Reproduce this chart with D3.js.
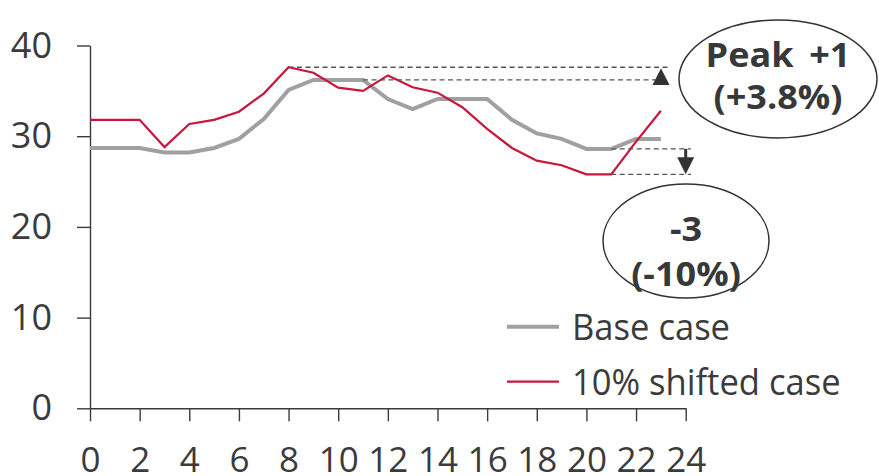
<!DOCTYPE html>
<html>
<head>
<meta charset="utf-8">
<script src="https://cdn.jsdelivr.net/npm/d3@7"></script>
<style>
  html, body { margin: 0; padding: 0; background: #fff; }
  svg { display: block; font-family: "Open Sans", "Noto Sans", sans-serif; }
</style>
</head>
<body>
<svg id="chart" width="879" height="476"></svg>
<script>
// Hourly profile, hours 0–23
const hours = [0, 1, 2, 3, 4, 5, 6, 7, 8, 9, 10, 11, 12, 13, 14, 15, 16, 17, 18, 19, 20, 21, 22, 23];
const baseCase = [28.7, 28.7, 28.7, 28.2, 28.2, 28.7, 29.7, 31.9, 35.1, 36.2, 36.2, 36.2,
                  34.1, 33.0, 34.1, 34.1, 34.1, 31.8, 30.3, 29.7, 28.6, 28.6, 29.7, 29.7];
const shiftedCase = [31.8, 31.8, 31.8, 28.8, 31.35, 31.8, 32.7, 34.7, 37.6, 37.0, 35.35, 35.0,
                     36.7, 35.4, 34.8, 33.2, 30.8, 28.7, 27.3, 26.8, 25.8, 25.8, 29.4, 32.8];
const seriesNames = ["Base case", "10% shifted case"];
const xTickValues = [0, 2, 4, 6, 8, 10, 12, 14, 16, 18, 20, 22, 24];
const yTickValues = [0, 10, 20, 30, 40];
const peakLabel = ["Peak +1", "(+3.8%)"];
const troughLabel = ["-3", "(-10%)"];

const ink = "#3b3b3b";
const greyLine = "#a0a0a0";
const redLine = "#c8163c";

const svg = d3.select("#chart");
const x = d3.scaleLinear().domain([0, 24]).range([90, 685.7]);
const y = d3.scaleLinear().domain([0, 40]).range([408.3, 45.5]);

function styleAxis(g, size) {
  g.selectAll(".domain").attr("stroke", ink).attr("stroke-width", 1.4);
  g.selectAll(".tick line").attr("stroke", ink).attr("stroke-width", 1.4);
  g.selectAll(".tick text")
    .attr("fill", ink)
    .style("font-family", '"Open Sans", "Noto Sans", sans-serif')
    .style("font-size", size + "px");
}

// y axis
svg.append("g")
  .attr("transform", `translate(${x(0)},0)`)
  .call(d3.axisLeft(y).tickValues(yTickValues).tickSize(13).tickSizeOuter(0).tickPadding(25))
  .call(styleAxis, 36);

// x axis
svg.append("g")
  .attr("transform", `translate(0,${y(0)})`)
  .call(d3.axisBottom(x).tickValues(xTickValues).tickSize(13).tickSizeOuter(0).tickPadding(26))
  .call(styleAxis, 35);

// series lines
const line = d3.line()
  .x((d, i) => x(hours[i]))
  .y(d => y(d));

svg.append("path")
  .datum(baseCase)
  .attr("fill", "none")
  .attr("stroke", greyLine)
  .attr("stroke-width", 4)
  .attr("d", line);

svg.append("path")
  .datum(shiftedCase)
  .attr("fill", "none")
  .attr("stroke", redLine)
  .attr("stroke-width", 2.2)
  .attr("d", line);

// rescale text width by a factor, keeping its height
function fitWidth(sel, k) {
  sel.each(function () {
    const w = this.getComputedTextLength();
    d3.select(this).attr("textLength", w * k).attr("lengthAdjust", "spacingAndGlyphs");
  });
}

// legend
const legend = svg.append("g");
const legendItems = [
  { name: seriesNames[0], color: greyLine, width: 4, y: 326.7 },
  { name: seriesNames[1], color: redLine, width: 2.2, y: 381.7 }
];
legendItems.forEach(item => {
  legend.append("line")
    .attr("x1", 507).attr("x2", 559)
    .attr("y1", item.y).attr("y2", item.y)
    .attr("stroke", item.color).attr("stroke-width", item.width);
  legend.append("text")
    .attr("x", 572).attr("y", item.y)
    .attr("dy", "0.36em")
    .attr("fill", ink)
    .style("font-size", "36px")
    .text(item.name)
    .call(fitWidth, 0.96);
});

// peak / trough guides
const lastIndex = (arr, v) => arr.lastIndexOf(v);
const baseMax = d3.max(baseCase), shiftMax = d3.max(shiftedCase);
const shiftMin = d3.min(shiftedCase);
const troughIdx = lastIndex(shiftedCase, shiftMin);
const baseAtTrough = baseCase[troughIdx];

const guides = svg.append("g")
  .attr("stroke", "#555")
  .attr("stroke-width", 1.3)
  .attr("stroke-dasharray", "5,3.5");

const peakEnd = 668;
guides.append("line")
  .attr("x1", x(hours[lastIndex(shiftedCase, shiftMax)])).attr("x2", peakEnd)
  .attr("y1", y(shiftMax)).attr("y2", y(shiftMax));
guides.append("line")
  .attr("x1", x(hours[lastIndex(baseCase, baseMax)])).attr("x2", peakEnd)
  .attr("y1", y(baseMax)).attr("y2", y(baseMax));

const troughEnd = 691;
guides.append("line")
  .attr("x1", x(hours[troughIdx])).attr("x2", troughEnd)
  .attr("y1", y(baseAtTrough)).attr("y2", y(baseAtTrough));
guides.append("line")
  .attr("x1", x(hours[troughIdx])).attr("x2", troughEnd)
  .attr("y1", y(shiftMin)).attr("y2", y(shiftMin));

// up triangle marking the peak increase
const triX = 661;
svg.append("path")
  .attr("d", `M${triX},${y(shiftMax) + 1}L${triX + 8.5},${y(baseMax) + 5}L${triX - 8.5},${y(baseMax) + 5}Z`)
  .attr("fill", "#333");

// down arrow marking the trough decrease
const arrowX = 685.7;
const headTop = y(shiftMin) - 17;
svg.append("line")
  .attr("x1", arrowX).attr("x2", arrowX)
  .attr("y1", y(baseAtTrough)).attr("y2", headTop + 1)
  .attr("stroke", "#333").attr("stroke-width", 3);
svg.append("path")
  .attr("d", `M${arrowX - 8.5},${headTop}L${arrowX + 8.5},${headTop}L${arrowX},${y(shiftMin)}Z`)
  .attr("fill", "#333");

// callout bubbles
function bubble(cx, cy, rx, ry, lines, baselines) {
  const g = svg.append("g");
  g.append("ellipse")
    .attr("cx", cx).attr("cy", cy).attr("rx", rx).attr("ry", ry)
    .attr("fill", "#fff").attr("stroke", "#333").attr("stroke-width", 1.5);
  lines.forEach((t, i) => {
    g.append("text")
      .attr("x", cx).attr("y", baselines[i])
      .attr("text-anchor", "middle")
      .attr("fill", "#383838")
      .style("font-size", "34px")
      .style("font-weight", 700)
      .style("word-spacing", "6px")
      .text(t)
      .call(fitWidth, 1.06);
  });
}
bubble(778, 79, 99, 59, peakLabel, [66.7, 109]);
bubble(686, 241, 83, 57, troughLabel, [241, 286]);
</script>
</body>
</html>
